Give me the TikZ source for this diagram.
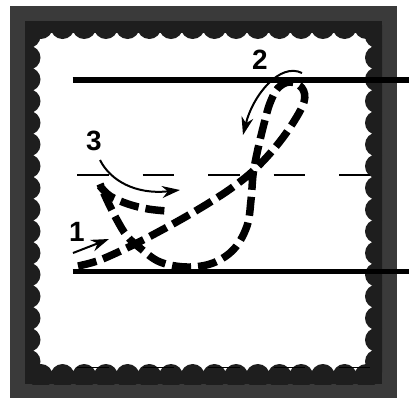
\documentclass[tikz,border=0pt]{standalone}
\usepackage{fontspec}
\setmainfont{Liberation Sans}
\usetikzlibrary{arrows.meta}
\definecolor{frameGrey}{HTML}{3A3A3A}
\definecolor{stampDark}{HTML}{1E1E1E}
\tikzset{
    guide/.style={draw, line width=5.5bp},
    midguide/.style={draw, line width=1.8bp, dash pattern=on 31.5bp off 34bp},
    letterstroke/.style={draw, line width=7.5bp, dash pattern=on 19bp off 7bp},
    hint/.style={draw, line width=2bp, -{Stealth[length=18bp,width=12bp]}},
    stepLabel/.style={font=\fontsize{28}{28}\selectfont\bfseries, inner sep=0pt}
}

\begin{document}
\begin{tikzpicture}[x=1bp, y=-1bp]
    \useasboundingbox (0,0) rectangle (409,402);
    \fill[white] (0,0) rectangle (409,402);

    % Stamp frame
    \fill[frameGrey] (10,6) rectangle (397,398);
    \fill[stampDark] (25,21) rectangle (382,384);
    \fill[white] (33,33) rectangle (373,372);
    \begin{scope}
        \clip (25,21) rectangle (382,384);
        \foreach \k in {0,...,15} {
            \fill[stampDark] ({40.8+21.7*\k},27) circle [radius=12bp];
            \fill[stampDark] ({40.8+21.7*\k},376) circle [radius=12bp];
            \fill[stampDark] (28.5,{36+21.7*\k}) circle [radius=12bp];
            \fill[stampDark] (377,{36+21.7*\k}) circle [radius=12bp];
        }
    \end{scope}

    % Guide lines
    \draw[guide] (72.7,80) -- (409,80);
    \draw[guide] (72.7,271.7) -- (409,271.7);
    \draw[midguide] (77,175) -- (370,175);
    \draw[midguide] (77,367.5) -- (370,367.5);

    % Letter
    \draw[letterstroke] plot[smooth, tension=0.6] coordinates {(78,266) (100,260) (133,245) (160,231) (187,216) (212,201) (233,187) (253,171) (273,150) (291,126) (304,102) (302,88) (290,82) (278,88) (270,103) (265,120) (260,140) (256,158) (253,175) (251,200) (247,226) (234,249) (213,263) (187,267) (160,262) (140,248) (127,236) (117,220) (107,200) (100,184)};
    \draw[letterstroke] plot[smooth, tension=0.6] coordinates {(100,186) (110,196) (128,204) (148,209) (167,211)};

    % Steps
    \node[stepLabel] (one) at (77,232) {1};
    \node[stepLabel] (two) at (260,60) {2};
    \node[stepLabel] (three) at (94,141) {3};

    \draw[hint] (73,253) -- (109,239);
    \draw[hint] (302,73) .. controls (280,62) and (253,95) .. (243,135);
    \draw[hint] (100,160) .. controls (110,180) and (135,195) .. (180,190);
\end{tikzpicture}
\end{document}
